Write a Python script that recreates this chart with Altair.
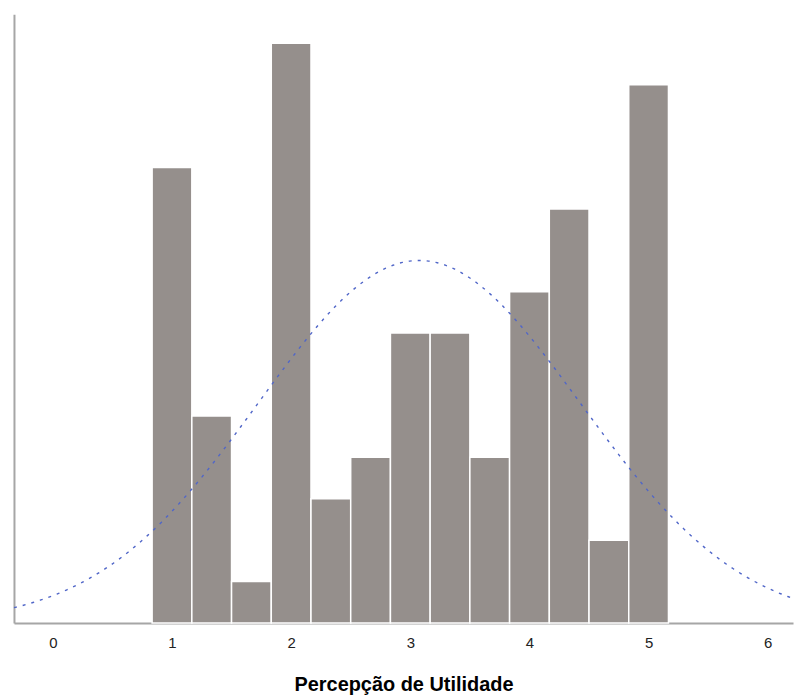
import altair as alt
import numpy as np
import pandas as pd

# Histogram of "Percepção de Utilidade" (bins of width 1/3, centred on 1, 4/3, ..., 5)
bin_centers = [1 + i / 3 for i in range(13)]
counts = [11, 5, 1, 14, 3, 4, 7, 7, 4, 8, 10, 2, 13]
tick_values = [0, 1, 2, 3, 4, 5, 6]
bin_width = 1 / 3

bars = pd.DataFrame({
    "start": [c - bin_width / 2 for c in bin_centers],
    "end": [c + bin_width / 2 for c in bin_centers],
    "count": counts,
})

# Normal curve fitted to the histogram data
vals = np.repeat(bin_centers, counts)
n = int(len(vals))
mean = float(vals.mean())
sd = float(vals.std(ddof=1))

x_dom = [-0.326, 6.212]
y_dom = [0, 14.7]

x_scale = alt.Scale(domain=x_dom, nice=False, zero=False)
y_scale = alt.Scale(domain=y_dom, nice=False)

bar_layer = alt.Chart(bars).mark_rect(
    color="#958f8c", stroke="white", strokeWidth=1.5
).encode(
    x=alt.X("start:Q", scale=x_scale,
            axis=alt.Axis(values=tick_values, format="d", ticks=False, grid=False,
                          domainColor="#a6a6a6", domainWidth=2,
                          labelFont="Liberation Sans", labelFontSize=15, labelColor="#222",
                          labelPadding=13, title="Percepção de Utilidade",
                          titleFont="Liberation Sans", titleFontSize=20, titleFontWeight="bold",
                          titleColor="#000", titlePadding=24)),
    x2="end:Q",
    y=alt.Y("count:Q", scale=y_scale,
            axis=alt.Axis(labels=False, ticks=False, grid=False, title=None,
                          domainColor="#a6a6a6", domainWidth=2)),
)

curve = alt.Chart(alt.sequence(x_dom[0], x_dom[1] + 0.01, 0.02, as_="x")).transform_calculate(
    y=f"{n} * {bin_width} / ({sd} * sqrt(2 * PI)) * exp(-0.5 * pow((datum.x - {mean}) / {sd}, 2))"
).mark_line(color="#5066c8", strokeDash=[3, 6], strokeWidth=1.4).encode(
    x=alt.X("x:Q", scale=x_scale),
    y=alt.Y("y:Q", scale=y_scale),
)

chart = alt.layer(bar_layer, curve).properties(
    width=782, height=611,
    padding={"left": 3, "top": 5, "right": 0, "bottom": 0},
).configure_view(stroke=None)

chart.save("out.html", embed_options={"renderer": "svg", "actions": False})
